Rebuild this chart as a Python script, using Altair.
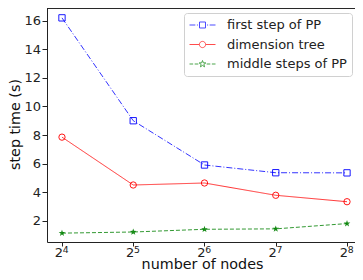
import math
import altair as alt
import pandas as pd

# ---- data ----
nodes = [16, 32, 64, 128, 256]
tick_base = "2"
tick_exponents = ["4", "5", "6", "7", "8"]
first_step_pp = [16.2, 9.0, 5.9, 5.36, 5.35]
dimension_tree = [7.85, 4.5, 4.64, 3.78, 3.33]
middle_steps_pp = [1.13, 1.21, 1.4, 1.43, 1.8]
series_names = ["first step of PP", "dimension tree", "middle steps of PP"]
y_ticks = [2, 4, 6, 8, 10, 12, 14, 16]

values_by_series = [first_step_pp, dimension_tree, middle_steps_pp]
rows = []
for name, vals in zip(series_names, values_by_series):
    for n, v in zip(nodes, vals):
        rows.append({"nodes": n, "time": v, "series": name})
df = pd.DataFrame(rows)
ticks_df = pd.DataFrame({"nodes": nodes, "base": [tick_base] * len(nodes), "exp": tick_exponents})


def star_path(ro, ri):
    pts = []
    for k in range(10):
        r = ro if k % 2 == 0 else ri
        a = math.radians(-90 + 36 * k)
        pts.append((r * math.cos(a), r * math.sin(a)))
    return "M" + "L".join(f"{x:.3f},{y:.3f}" for x, y in pts) + "Z"


# ---- styles ----
colors = ["#0000ff", "#ff0000", "#008000"]
dashes = [[6, 2, 1, 2], [1, 0], [4, 2]]
shapes = ["square", "circle", star_path(1.1, 0.45)]
filled = [False, False, True]

legend_paths = [
    "M-1,0H-0.55M-0.43,0H-0.35M0.35,0H0.43M0.55,0H1"
    "M-0.23,-0.23H0.23V0.23H-0.23Z",
    "M-1,0H-0.24M0.24,0H1"
    "M0.24,0A0.24,0.24,0,1,1,-0.24,0A0.24,0.24,0,1,1,0.24,0Z",
    "M-1,0H-0.72M-0.6,0H-0.32M0.32,0H0.6M0.72,0H1" + star_path(0.27, 0.11),
]

W, H = 308, 234
x_scale = alt.Scale(type="log", base=2, domain=[13.83, 276.7], nice=False)
y_scale = alt.Scale(domain=[0.51, 16.89], nice=False, zero=False)

x_enc = alt.X(
    "nodes:Q",
    scale=x_scale,
    axis=alt.Axis(
        values=nodes,
        labels=False,
        title="number of nodes",
        grid=False,
        tickSize=4,
        titleX=W / 2 + 1,
        titleY=26.5,
        titleBaseline="alphabetic",
    ),
)
y_enc = alt.Y(
    "time:Q",
    scale=y_scale,
    axis=alt.Axis(
        values=y_ticks,
        title="step time (s)",
        grid=False,
        tickSize=5,
        labelPadding=1.5,
        titleX=-25,
        titleY=H / 2 - 1,
    ),
)

layers = []
for name, col, dash, shp, fil in zip(series_names, colors, dashes, shapes, filled):
    base = alt.Chart(df).transform_filter(alt.datum.series == name)
    line = base.mark_line(
        color=col, strokeWidth=1, strokeDash=dash, opacity=0.8
    ).encode(x=x_enc, y=y_enc)
    pts = base.mark_point(
        shape=shp, size=40, color=col, filled=fil, strokeWidth=1, opacity=0.9
    ).encode(x=x_enc, y=y_enc)
    layers += [line, pts]

# x tick labels as 2 with a superscript exponent
tick_base_layer = alt.Chart(ticks_df).mark_text(
    font="DejaVu Sans", fontSize=13, color="#222222", align="center",
    baseline="alphabetic", dx=-3.2,
).encode(x=x_enc, y=alt.value(H + 15), text="base:N")
tick_exp_layer = alt.Chart(ticks_df).mark_text(
    font="DejaVu Sans", fontSize=9.3, color="#222222", align="center",
    baseline="alphabetic", dx=3.6,
).encode(x=x_enc, y=alt.value(H + 10.5), text="exp:N")

top_frame = alt.Chart(ticks_df).mark_rule(color="#222222", strokeWidth=1).encode(
    x=alt.value(0), x2=alt.value(W), y=alt.value(0)
)

legend_layer = (
    alt.Chart(df)
    .transform_filter("false")
    .mark_point(filled=False, strokeWidth=1)
    .encode(
        color=alt.Color(
            "series:N",
            scale=alt.Scale(domain=series_names, range=colors),
            legend=alt.Legend(
                title=None,
                orient="none",
                legendX=137,
                legendY=5,
                padding=5,
                symbolSize=676,
                symbolStrokeWidth=1,
                clipHeight=14,
                rowPadding=5.5,
                labelOffset=11,
                labelFontSize=13,
                labelFont="DejaVu Sans",
                labelColor="#222222",
                strokeColor="#d0d0d0",
                fillColor="rgba(255,255,255,0.85)",
                cornerRadius=3,
            ),
        ),
        shape=alt.Shape(
            "series:N",
            scale=alt.Scale(domain=series_names, range=legend_paths),
            legend=alt.Legend(title=None),
        ),
    )
)

chart = (
    alt.layer(*layers, tick_base_layer, tick_exp_layer, top_frame, legend_layer)
    .properties(
        width=W,
        height=H,
        autosize=alt.AutoSizeParams(type="none"),
        padding={"left": 39, "top": 0, "right": 0, "bottom": 30},
    )
    .configure_view(stroke=None)
    .configure_axis(
        labelFont="DejaVu Sans",
        titleFont="DejaVu Sans",
        labelFontSize=13,
        titleFontSize=14.3,
        titleFontWeight="normal",
        labelColor="#222222",
        titleColor="#111111",
        domainColor="#222222",
        tickColor="#222222",
    )
)

chart.save("out.html", embed_options={"renderer": "svg", "actions": False})
